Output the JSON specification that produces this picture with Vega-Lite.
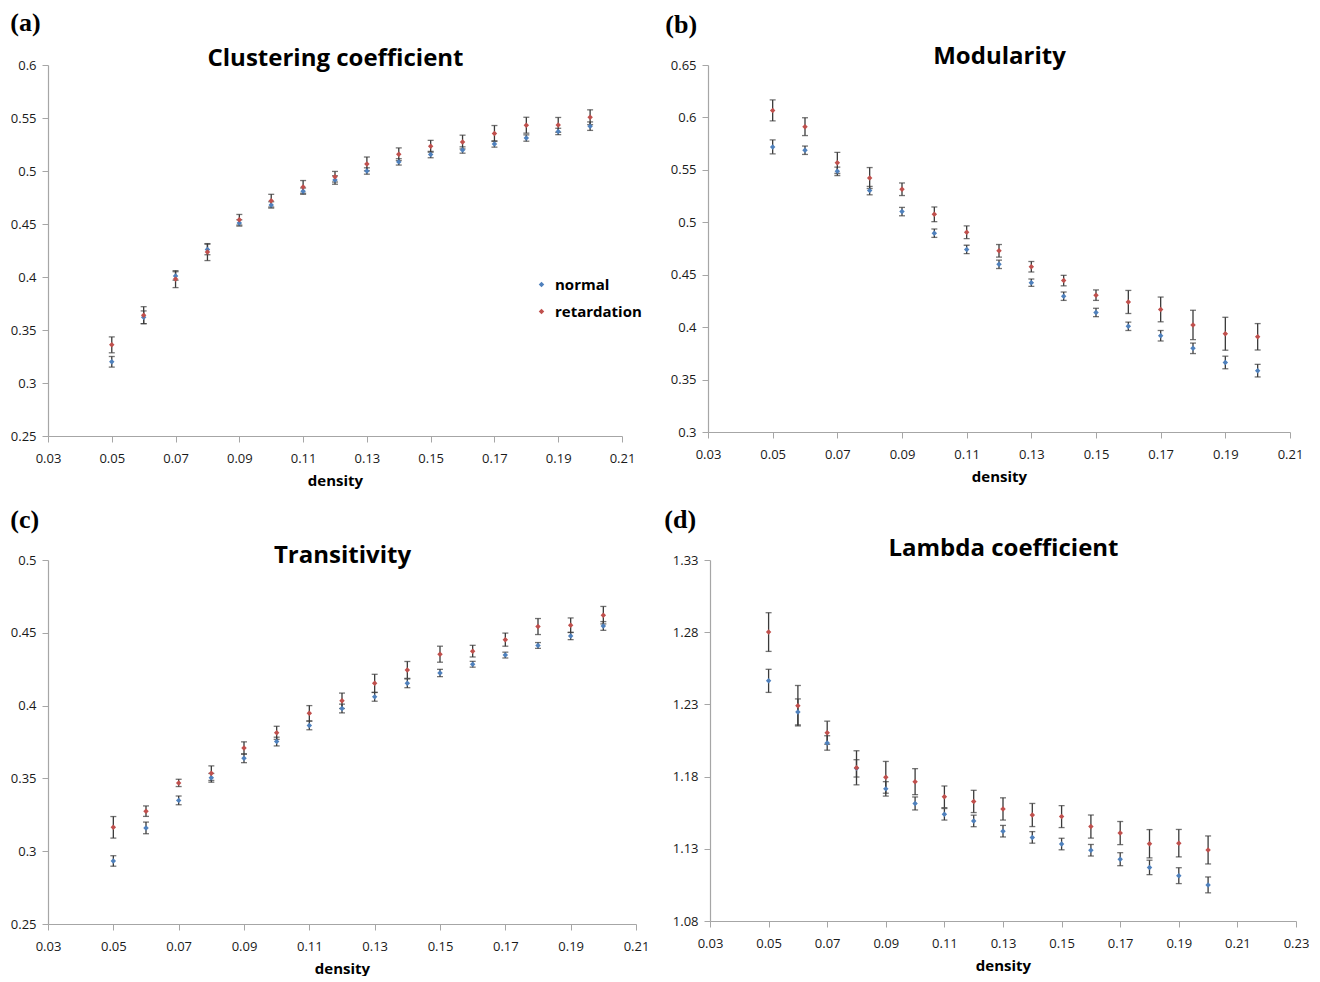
{
  "$schema": "https://vega.github.io/schema/vega-lite/v6.json",
  "padding": {"left": 10, "top": 10, "right": 0, "bottom": 0},
  "background": "white",
  "config": {
    "view": {"stroke": null},
    "font": "Open Sans",
    "title": {"font": "Liberation Serif", "fontSize": 26, "fontWeight": "bold", "anchor": "start", "frame": "bounds", "color": "#000", "offset": 10},
    "axis": {"grid": false, "domainColor": "#a6a6a6", "tickColor": "#a6a6a6", "domainWidth": 1.2, "labelFont": "Open Sans", "labelFontSize": 13, "labelColor": "#1a1a1a", "titleFont": "Open Sans", "titleFontWeight": "bold", "titleFontSize": 15, "titleColor": "#000"},
    "axisX": {"tickSize": 6, "labelPadding": 10, "titlePadding": 8, "labelFlush": false},
    "axisY": {"tickSize": 6, "labelPadding": 6, "labelFlush": false},
    "legend": {"labelFont": "Open Sans", "labelFontSize": 15, "labelFontWeight": "bold", "labelColor": "#000"}
  },
  "datasets": {
    "a": [
      {"density": 0.05, "group": "normal", "value": 0.320, "lo": 0.315, "hi": 0.325},
      {"density": 0.06, "group": "normal", "value": 0.362, "lo": 0.356, "hi": 0.368},
      {"density": 0.07, "group": "normal", "value": 0.401, "lo": 0.397, "hi": 0.405},
      {"density": 0.08, "group": "normal", "value": 0.426, "lo": 0.421, "hi": 0.431},
      {"density": 0.09, "group": "normal", "value": 0.451, "lo": 0.448, "hi": 0.454},
      {"density": 0.10, "group": "normal", "value": 0.468, "lo": 0.465, "hi": 0.471},
      {"density": 0.11, "group": "normal", "value": 0.481, "lo": 0.478, "hi": 0.484},
      {"density": 0.12, "group": "normal", "value": 0.4915, "lo": 0.4875, "hi": 0.4955},
      {"density": 0.13, "group": "normal", "value": 0.500, "lo": 0.497, "hi": 0.503},
      {"density": 0.14, "group": "normal", "value": 0.5086, "lo": 0.5056, "hi": 0.5116},
      {"density": 0.15, "group": "normal", "value": 0.5155, "lo": 0.5125, "hi": 0.5185},
      {"density": 0.16, "group": "normal", "value": 0.5198, "lo": 0.5168, "hi": 0.5228},
      {"density": 0.17, "group": "normal", "value": 0.5255, "lo": 0.5225, "hi": 0.5285},
      {"density": 0.18, "group": "normal", "value": 0.5311, "lo": 0.5281, "hi": 0.5341},
      {"density": 0.19, "group": "normal", "value": 0.5373, "lo": 0.5343, "hi": 0.5403},
      {"density": 0.20, "group": "normal", "value": 0.5423, "lo": 0.5383, "hi": 0.5463},
      {"density": 0.05, "group": "retardation", "value": 0.336, "lo": 0.3285, "hi": 0.3435},
      {"density": 0.06, "group": "retardation", "value": 0.364, "lo": 0.356, "hi": 0.372},
      {"density": 0.07, "group": "retardation", "value": 0.398, "lo": 0.390, "hi": 0.406},
      {"density": 0.08, "group": "retardation", "value": 0.4235, "lo": 0.4155, "hi": 0.4315},
      {"density": 0.09, "group": "retardation", "value": 0.454, "lo": 0.449, "hi": 0.459},
      {"density": 0.10, "group": "retardation", "value": 0.472, "lo": 0.466, "hi": 0.478},
      {"density": 0.11, "group": "retardation", "value": 0.485, "lo": 0.479, "hi": 0.491},
      {"density": 0.12, "group": "retardation", "value": 0.4946, "lo": 0.4896, "hi": 0.4996},
      {"density": 0.13, "group": "retardation", "value": 0.5067, "lo": 0.5002, "hi": 0.5132},
      {"density": 0.14, "group": "retardation", "value": 0.5158, "lo": 0.5098, "hi": 0.5218},
      {"density": 0.15, "group": "retardation", "value": 0.5233, "lo": 0.5177, "hi": 0.5289},
      {"density": 0.16, "group": "retardation", "value": 0.5273, "lo": 0.5208, "hi": 0.5338},
      {"density": 0.17, "group": "retardation", "value": 0.5354, "lo": 0.5279, "hi": 0.5429},
      {"density": 0.18, "group": "retardation", "value": 0.5432, "lo": 0.5357, "hi": 0.5507},
      {"density": 0.19, "group": "retardation", "value": 0.5435, "lo": 0.5365, "hi": 0.5505},
      {"density": 0.20, "group": "retardation", "value": 0.5507, "lo": 0.5437, "hi": 0.5577}
    ],
    "b": [
      {"density": 0.05, "group": "normal", "value": 0.5719, "lo": 0.5653, "hi": 0.5785},
      {"density": 0.06, "group": "normal", "value": 0.5687, "lo": 0.5647, "hi": 0.5727},
      {"density": 0.07, "group": "normal", "value": 0.5486, "lo": 0.5446, "hi": 0.5526},
      {"density": 0.08, "group": "normal", "value": 0.5302, "lo": 0.5262, "hi": 0.5342},
      {"density": 0.09, "group": "normal", "value": 0.5102, "lo": 0.5062, "hi": 0.5142},
      {"density": 0.10, "group": "normal", "value": 0.4896, "lo": 0.4856, "hi": 0.4936},
      {"density": 0.11, "group": "normal", "value": 0.4741, "lo": 0.4701, "hi": 0.4781},
      {"density": 0.12, "group": "normal", "value": 0.4599, "lo": 0.4559, "hi": 0.4639},
      {"density": 0.13, "group": "normal", "value": 0.4424, "lo": 0.4389, "hi": 0.4459},
      {"density": 0.14, "group": "normal", "value": 0.4295, "lo": 0.4255, "hi": 0.4335},
      {"density": 0.15, "group": "normal", "value": 0.4140, "lo": 0.4100, "hi": 0.4180},
      {"density": 0.16, "group": "normal", "value": 0.4008, "lo": 0.3968, "hi": 0.4048},
      {"density": 0.17, "group": "normal", "value": 0.3918, "lo": 0.3868, "hi": 0.3968},
      {"density": 0.18, "group": "normal", "value": 0.3798, "lo": 0.3748, "hi": 0.3848},
      {"density": 0.19, "group": "normal", "value": 0.3663, "lo": 0.3603, "hi": 0.3723},
      {"density": 0.20, "group": "normal", "value": 0.3585, "lo": 0.3525, "hi": 0.3645},
      {"density": 0.05, "group": "retardation", "value": 0.6067, "lo": 0.5967, "hi": 0.6167},
      {"density": 0.06, "group": "retardation", "value": 0.5912, "lo": 0.5827, "hi": 0.5997},
      {"density": 0.07, "group": "retardation", "value": 0.5567, "lo": 0.5467, "hi": 0.5667},
      {"density": 0.08, "group": "retardation", "value": 0.5422, "lo": 0.5322, "hi": 0.5522},
      {"density": 0.09, "group": "retardation", "value": 0.5315, "lo": 0.5255, "hi": 0.5375},
      {"density": 0.10, "group": "retardation", "value": 0.5076, "lo": 0.5006, "hi": 0.5146},
      {"density": 0.11, "group": "retardation", "value": 0.4905, "lo": 0.4845, "hi": 0.4965},
      {"density": 0.12, "group": "retardation", "value": 0.4728, "lo": 0.4668, "hi": 0.4788},
      {"density": 0.13, "group": "retardation", "value": 0.4576, "lo": 0.4526, "hi": 0.4626},
      {"density": 0.14, "group": "retardation", "value": 0.4444, "lo": 0.4394, "hi": 0.4494},
      {"density": 0.15, "group": "retardation", "value": 0.4305, "lo": 0.4255, "hi": 0.4355},
      {"density": 0.16, "group": "retardation", "value": 0.4240, "lo": 0.4130, "hi": 0.4350},
      {"density": 0.17, "group": "retardation", "value": 0.4169, "lo": 0.4051, "hi": 0.4287},
      {"density": 0.18, "group": "retardation", "value": 0.4021, "lo": 0.3881, "hi": 0.4161},
      {"density": 0.19, "group": "retardation", "value": 0.3937, "lo": 0.3780, "hi": 0.4094},
      {"density": 0.20, "group": "retardation", "value": 0.3908, "lo": 0.3782, "hi": 0.4034}
    ],
    "c": [
      {"density": 0.05, "group": "normal", "value": 0.2933, "lo": 0.2897, "hi": 0.2969},
      {"density": 0.06, "group": "normal", "value": 0.3160, "lo": 0.3120, "hi": 0.3200},
      {"density": 0.07, "group": "normal", "value": 0.3349, "lo": 0.3319, "hi": 0.3379},
      {"density": 0.08, "group": "normal", "value": 0.3504, "lo": 0.3474, "hi": 0.3534},
      {"density": 0.09, "group": "normal", "value": 0.3638, "lo": 0.3608, "hi": 0.3668},
      {"density": 0.10, "group": "normal", "value": 0.3753, "lo": 0.3723, "hi": 0.3783},
      {"density": 0.11, "group": "normal", "value": 0.3864, "lo": 0.3834, "hi": 0.3894},
      {"density": 0.12, "group": "normal", "value": 0.3980, "lo": 0.3950, "hi": 0.4010},
      {"density": 0.13, "group": "normal", "value": 0.4060, "lo": 0.4030, "hi": 0.4090},
      {"density": 0.14, "group": "normal", "value": 0.4153, "lo": 0.4123, "hi": 0.4183},
      {"density": 0.15, "group": "normal", "value": 0.4224, "lo": 0.4199, "hi": 0.4249},
      {"density": 0.16, "group": "normal", "value": 0.4284, "lo": 0.4264, "hi": 0.4304},
      {"density": 0.17, "group": "normal", "value": 0.4347, "lo": 0.4327, "hi": 0.4367},
      {"density": 0.18, "group": "normal", "value": 0.4413, "lo": 0.4393, "hi": 0.4433},
      {"density": 0.19, "group": "normal", "value": 0.4478, "lo": 0.4453, "hi": 0.4503},
      {"density": 0.20, "group": "normal", "value": 0.4547, "lo": 0.4517, "hi": 0.4577},
      {"density": 0.05, "group": "retardation", "value": 0.3164, "lo": 0.3090, "hi": 0.3238},
      {"density": 0.06, "group": "retardation", "value": 0.3275, "lo": 0.3239, "hi": 0.3311},
      {"density": 0.07, "group": "retardation", "value": 0.3469, "lo": 0.3444, "hi": 0.3494},
      {"density": 0.08, "group": "retardation", "value": 0.3536, "lo": 0.3486, "hi": 0.3586},
      {"density": 0.09, "group": "retardation", "value": 0.3709, "lo": 0.3667, "hi": 0.3751},
      {"density": 0.10, "group": "retardation", "value": 0.3813, "lo": 0.3768, "hi": 0.3858},
      {"density": 0.11, "group": "retardation", "value": 0.3947, "lo": 0.3894, "hi": 0.4000},
      {"density": 0.12, "group": "retardation", "value": 0.4033, "lo": 0.3980, "hi": 0.4086},
      {"density": 0.13, "group": "retardation", "value": 0.4153, "lo": 0.4091, "hi": 0.4215},
      {"density": 0.14, "group": "retardation", "value": 0.4245, "lo": 0.4187, "hi": 0.4303},
      {"density": 0.15, "group": "retardation", "value": 0.4353, "lo": 0.4298, "hi": 0.4408},
      {"density": 0.16, "group": "retardation", "value": 0.4374, "lo": 0.4334, "hi": 0.4414},
      {"density": 0.17, "group": "retardation", "value": 0.4453, "lo": 0.4408, "hi": 0.4498},
      {"density": 0.18, "group": "retardation", "value": 0.4543, "lo": 0.4488, "hi": 0.4598},
      {"density": 0.19, "group": "retardation", "value": 0.4552, "lo": 0.4502, "hi": 0.4602},
      {"density": 0.20, "group": "retardation", "value": 0.4621, "lo": 0.4561, "hi": 0.4681}
    ],
    "d": [
      {"density": 0.05, "group": "normal", "value": 1.2463, "lo": 1.2383, "hi": 1.2543},
      {"density": 0.06, "group": "normal", "value": 1.2248, "lo": 1.2158, "hi": 1.2338},
      {"density": 0.07, "group": "normal", "value": 1.2033, "lo": 1.1983, "hi": 1.2083},
      {"density": 0.08, "group": "normal", "value": 1.1857, "lo": 1.1797, "hi": 1.1917},
      {"density": 0.09, "group": "normal", "value": 1.1715, "lo": 1.1665, "hi": 1.1765},
      {"density": 0.10, "group": "normal", "value": 1.1614, "lo": 1.1569, "hi": 1.1659},
      {"density": 0.11, "group": "normal", "value": 1.1539, "lo": 1.1499, "hi": 1.1579},
      {"density": 0.12, "group": "normal", "value": 1.1493, "lo": 1.1453, "hi": 1.1533},
      {"density": 0.13, "group": "normal", "value": 1.1422, "lo": 1.1382, "hi": 1.1462},
      {"density": 0.14, "group": "normal", "value": 1.1379, "lo": 1.1339, "hi": 1.1419},
      {"density": 0.15, "group": "normal", "value": 1.1333, "lo": 1.1293, "hi": 1.1373},
      {"density": 0.16, "group": "normal", "value": 1.1290, "lo": 1.1250, "hi": 1.1330},
      {"density": 0.17, "group": "normal", "value": 1.1228, "lo": 1.1183, "hi": 1.1273},
      {"density": 0.18, "group": "normal", "value": 1.1171, "lo": 1.1121, "hi": 1.1221},
      {"density": 0.19, "group": "normal", "value": 1.1114, "lo": 1.1059, "hi": 1.1169},
      {"density": 0.20, "group": "normal", "value": 1.1050, "lo": 1.0995, "hi": 1.1105},
      {"density": 0.05, "group": "retardation", "value": 1.2801, "lo": 1.2667, "hi": 1.2935},
      {"density": 0.06, "group": "retardation", "value": 1.2291, "lo": 1.2151, "hi": 1.2431},
      {"density": 0.07, "group": "retardation", "value": 1.2104, "lo": 1.2024, "hi": 1.2184},
      {"density": 0.08, "group": "retardation", "value": 1.1861, "lo": 1.1743, "hi": 1.1979},
      {"density": 0.09, "group": "retardation", "value": 1.1795, "lo": 1.1685, "hi": 1.1905},
      {"density": 0.10, "group": "retardation", "value": 1.1765, "lo": 1.1675, "hi": 1.1855},
      {"density": 0.11, "group": "retardation", "value": 1.1660, "lo": 1.1585, "hi": 1.1735},
      {"density": 0.12, "group": "retardation", "value": 1.1628, "lo": 1.1551, "hi": 1.1705},
      {"density": 0.13, "group": "retardation", "value": 1.1576, "lo": 1.1499, "hi": 1.1653},
      {"density": 0.14, "group": "retardation", "value": 1.1534, "lo": 1.1454, "hi": 1.1614},
      {"density": 0.15, "group": "retardation", "value": 1.1523, "lo": 1.1447, "hi": 1.1599},
      {"density": 0.16, "group": "retardation", "value": 1.1454, "lo": 1.1374, "hi": 1.1534},
      {"density": 0.17, "group": "retardation", "value": 1.1409, "lo": 1.1329, "hi": 1.1489},
      {"density": 0.18, "group": "retardation", "value": 1.1335, "lo": 1.1237, "hi": 1.1433},
      {"density": 0.19, "group": "retardation", "value": 1.1339, "lo": 1.1244, "hi": 1.1434},
      {"density": 0.20, "group": "retardation", "value": 1.1292, "lo": 1.1195, "hi": 1.1389}
    ]
  },
  "resolve": {"scale": {"color": "independent"}, "legend": {"color": "independent"}},
  "spacing": 19,
  "vconcat": [
    {
      "spacing": 23,
      "resolve": {"scale": {"color": "independent"}, "legend": {"color": "independent"}},
      "hconcat": [
        {
          "title": {"text": "(a)"},
          "width": 574, "height": 371,
          "data": {"name": "a"},
          "resolve": {"axis": {"x": "independent"}},
          "layer": [
            {
              "mark": {"type": "errorbar", "ticks": {"size": 6}, "color": "#3a3a3a", "thickness": 1.3},
              "encoding": {
                "x": {"field": "density", "type": "quantitative", "scale": {"domain": [0.03, 0.21], "nice": false, "zero": false},
                      "axis": {"orient": "top", "title": "Clustering coefficient", "labels": false, "ticks": false, "domain": false, "titleFontSize": 24, "titleBaseline": "alphabetic", "titlePadding": 0}},
                "y": {"field": "lo", "type": "quantitative", "scale": {"domain": [0.25, 0.6], "nice": false, "zero": false},
                      "axis": {"values": [0.25, 0.3, 0.35, 0.4, 0.45, 0.5, 0.55, 0.6], "format": ".2~f", "title": null}},
                "y2": {"field": "hi"}
              }
            },
            {
              "mark": {"type": "point", "shape": "diamond", "filled": true, "size": 30, "opacity": 1},
              "encoding": {
                "x": {"field": "density", "type": "quantitative",
                      "axis": {"orient": "bottom", "values": [0.03, 0.05, 0.07, 0.09, 0.11, 0.13, 0.15, 0.17, 0.19, 0.21], "format": ".2f", "title": "density"}},
                "y": {"field": "value", "type": "quantitative",
                      "axis": {"values": [0.25, 0.3, 0.35, 0.4, 0.45, 0.5, 0.55, 0.6], "format": ".2~f", "title": null}},
                "color": {"field": "group", "type": "nominal", "scale": {"domain": ["normal", "retardation"], "range": ["#4F81BD", "#C0504D"]},
                          "legend": {"orient": "none", "legendX": 486, "legendY": 212, "title": null, "symbolType": "diamond", "symbolSize": 30, "rowPadding": 11, "labelOffset": 6}}
              }
            }
          ]
        },
        {
          "title": {"text": "(b)", "dx": -5, "offset": 6},
          "width": 582, "height": 367,
          "data": {"name": "b"},
          "resolve": {"axis": {"x": "independent"}},
          "layer": [
            {
              "mark": {"type": "errorbar", "ticks": {"size": 6}, "color": "#3a3a3a", "thickness": 1.3},
              "encoding": {
                "x": {"field": "density", "type": "quantitative", "scale": {"domain": [0.03, 0.21], "nice": false, "zero": false},
                      "axis": {"orient": "top", "title": "Modularity", "labels": false, "ticks": false, "domain": false, "titleFontSize": 24, "titleBaseline": "alphabetic", "titlePadding": 2}},
                "y": {"field": "lo", "type": "quantitative", "scale": {"domain": [0.3, 0.65], "nice": false, "zero": false},
                      "axis": {"values": [0.3, 0.35, 0.4, 0.45, 0.5, 0.55, 0.6, 0.65], "format": ".2~f", "title": null}},
                "y2": {"field": "hi"}
              }
            },
            {
              "mark": {"type": "point", "shape": "diamond", "filled": true, "size": 30, "opacity": 1},
              "encoding": {
                "x": {"field": "density", "type": "quantitative",
                      "axis": {"orient": "bottom", "values": [0.03, 0.05, 0.07, 0.09, 0.11, 0.13, 0.15, 0.17, 0.19, 0.21], "format": ".2f", "title": "density"}},
                "y": {"field": "value", "type": "quantitative",
                      "axis": {"values": [0.3, 0.35, 0.4, 0.45, 0.5, 0.55, 0.6, 0.65], "format": ".2~f", "title": null}},
                "color": {"field": "group", "type": "nominal", "scale": {"domain": ["normal", "retardation"], "range": ["#4F81BD", "#C0504D"]}, "legend": null}
              }
            }
          ]
        }
      ]
    },
    {
      "spacing": 15,
      "resolve": {"scale": {"color": "independent"}, "legend": {"color": "independent"}},
      "hconcat": [
        {
          "title": {"text": "(c)"},
          "width": 588, "height": 364,
          "data": {"name": "c"},
          "resolve": {"axis": {"x": "independent"}},
          "layer": [
            {
              "mark": {"type": "errorbar", "ticks": {"size": 6}, "color": "#3a3a3a", "thickness": 1.3},
              "encoding": {
                "x": {"field": "density", "type": "quantitative", "scale": {"domain": [0.03, 0.21], "nice": false, "zero": false},
                      "axis": {"orient": "top", "title": "Transitivity", "labels": false, "ticks": false, "domain": false, "titleFontSize": 24, "titleBaseline": "alphabetic", "titlePadding": -2}},
                "y": {"field": "lo", "type": "quantitative", "scale": {"domain": [0.25, 0.5], "nice": false, "zero": false},
                      "axis": {"values": [0.25, 0.3, 0.35, 0.4, 0.45, 0.5], "format": ".2~f", "title": null}},
                "y2": {"field": "hi"}
              }
            },
            {
              "mark": {"type": "point", "shape": "diamond", "filled": true, "size": 30, "opacity": 1},
              "encoding": {
                "x": {"field": "density", "type": "quantitative",
                      "axis": {"orient": "bottom", "values": [0.03, 0.05, 0.07, 0.09, 0.11, 0.13, 0.15, 0.17, 0.19, 0.21], "format": ".2f", "title": "density"}},
                "y": {"field": "value", "type": "quantitative",
                      "axis": {"values": [0.25, 0.3, 0.35, 0.4, 0.45, 0.5], "format": ".2~f", "title": null}},
                "color": {"field": "group", "type": "nominal", "scale": {"domain": ["normal", "retardation"], "range": ["#4F81BD", "#C0504D"]}, "legend": null}
              }
            }
          ]
        },
        {
          "title": {"text": "(d)", "dx": -8, "offset": 3},
          "width": 586, "height": 361,
          "data": {"name": "d"},
          "resolve": {"axis": {"x": "independent"}},
          "layer": [
            {
              "mark": {"type": "errorbar", "ticks": {"size": 6}, "color": "#3a3a3a", "thickness": 1.3},
              "encoding": {
                "x": {"field": "density", "type": "quantitative", "scale": {"domain": [0.03, 0.23], "nice": false, "zero": false},
                      "axis": {"orient": "top", "title": "Lambda coefficient", "labels": false, "ticks": false, "domain": false, "titleFontSize": 24, "titleBaseline": "alphabetic", "titlePadding": 5}},
                "y": {"field": "lo", "type": "quantitative", "scale": {"domain": [1.08, 1.33], "nice": false, "zero": false},
                      "axis": {"values": [1.08, 1.13, 1.18, 1.23, 1.28, 1.33], "format": ".2f", "title": null}},
                "y2": {"field": "hi"}
              }
            },
            {
              "mark": {"type": "point", "shape": "diamond", "filled": true, "size": 30, "opacity": 1},
              "encoding": {
                "x": {"field": "density", "type": "quantitative",
                      "axis": {"orient": "bottom", "values": [0.03, 0.05, 0.07, 0.09, 0.11, 0.13, 0.15, 0.17, 0.19, 0.21, 0.23], "format": ".2f", "title": "density"}},
                "y": {"field": "value", "type": "quantitative",
                      "axis": {"values": [1.08, 1.13, 1.18, 1.23, 1.28, 1.33], "format": ".2f", "title": null}},
                "color": {"field": "group", "type": "nominal", "scale": {"domain": ["normal", "retardation"], "range": ["#4F81BD", "#C0504D"]}, "legend": null}
              }
            }
          ]
        }
      ]
    }
  ]
}
